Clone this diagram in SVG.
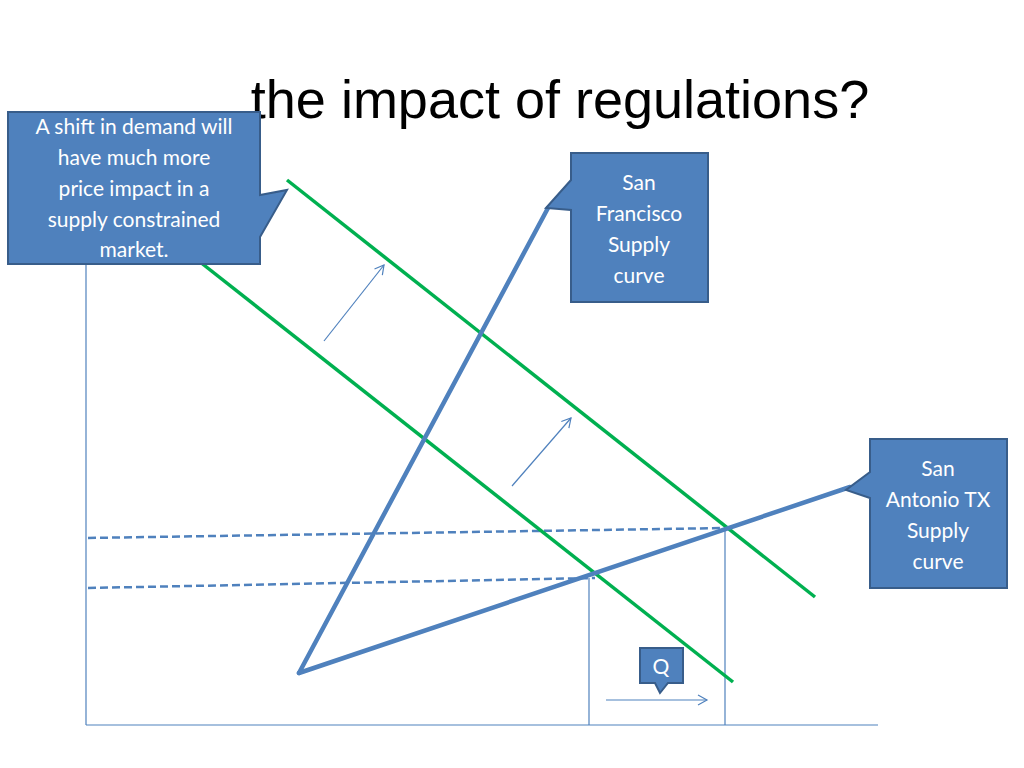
<svg xmlns="http://www.w3.org/2000/svg" width="1024" height="768" viewBox="0 0 1024 768">
<defs>
<marker id="ah" markerWidth="12" markerHeight="12" refX="10" refY="6" orient="auto" markerUnits="userSpaceOnUse"><path d="M1,1 L10,6 L1,11" fill="none" stroke="#4f81bd" stroke-width="1.2"/></marker>
<style>
.ax{stroke:#4f81bd;stroke-width:1.2;fill:none}
.gr{stroke:#00b050;stroke-width:3.5;fill:none}
.sup{stroke:#4f81bd;stroke-width:4.5;fill:none;stroke-linecap:round}
.dash{stroke:#4f81bd;stroke-width:2.5;stroke-dasharray:8,4;fill:none}
.co{fill:#4f81bd;stroke:#385d8a;stroke-width:2}
.ct{font-family:Lato,"Open Sans",sans-serif;font-size:21px;fill:#fff;text-anchor:middle}
</style>
</defs>
<rect width="1024" height="768" fill="#fff"/>
<text x="560" y="118" font-family="'Liberation Sans',Arial,sans-serif" font-size="54" text-anchor="middle" fill="#000">the impact of regulations?</text>
<g id="connectors">
<line class="ax" x1="86" y1="262" x2="86" y2="725"/>
<line class="ax" x1="86" y1="725" x2="878" y2="725"/>
<line class="ax" x1="589" y1="578" x2="589" y2="725"/>
<line class="ax" x1="725" y1="528" x2="725" y2="725"/>
<line class="dash" x1="88" y1="538" x2="725" y2="528"/>
<line class="dash" x1="88" y1="588" x2="595" y2="578"/>
<line class="gr" x1="195" y1="258" x2="733" y2="682"/>
<line class="gr" x1="287" y1="180" x2="815" y2="597"/>
<line class="sup" x1="299" y1="673" x2="548" y2="208"/>
<line class="sup" x1="299" y1="673" x2="850" y2="487"/>
<line class="ax" x1="324" y1="341" x2="384" y2="265" marker-end="url(#ah)"/>
<line class="ax" x1="512" y1="486" x2="571" y2="418" marker-end="url(#ah)"/>
<line class="ax" x1="606" y1="700" x2="707" y2="700" marker-end="url(#ah)"/>
</g>
<g id="callout-shift">
<path class="co" d="M8,112 H260 V195 L287,190 L260,237 V264 H8 Z"/>
<text class="ct"><tspan x="134" y="134">A shift in demand will</tspan><tspan x="134" y="165">have much more</tspan><tspan x="134" y="196">price impact in a</tspan><tspan x="134" y="227">supply constrained</tspan><tspan x="134" y="257">market.</tspan></text>
</g>
<g id="callout-sf">
<path class="co" d="M571,153 H708 V302 H571 V210 L546,208 L571,180 Z"/>
<text class="ct"><tspan x="639" y="190">San</tspan><tspan x="639" y="221">Francisco</tspan><tspan x="639" y="252">Supply</tspan><tspan x="639" y="283">curve</tspan></text>
</g>
<g id="callout-sa">
<path class="co" d="M870,439 H1007 V588 H870 V498 L846,490 L870,472 Z"/>
<text class="ct"><tspan x="938" y="476">San</tspan><tspan x="938" y="507">Antonio TX</tspan><tspan x="938" y="538">Supply</tspan><tspan x="938" y="569">curve</tspan></text>
</g>
<g id="callout-q">
<path class="co" d="M640,648 H683 V683 H668 L660,693 L655,683 H640 Z"/>
<text class="ct" x="661" y="674">Q</text>
</g>
</svg>
